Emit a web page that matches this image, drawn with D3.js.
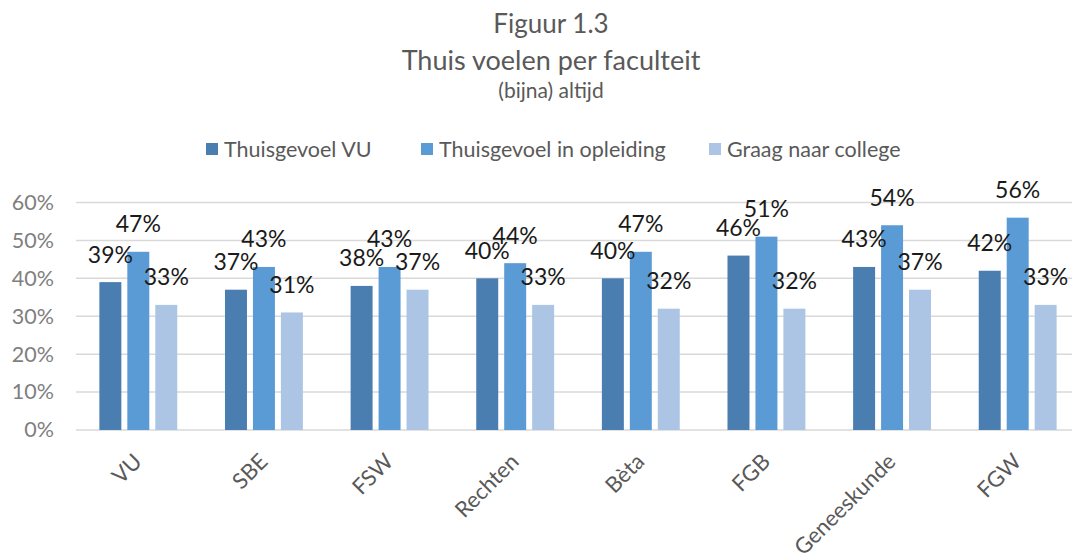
<!DOCTYPE html>
<html>
<head>
<meta charset="utf-8">
<script src="https://cdn.jsdelivr.net/npm/d3@7"></script>
<style>
  body { margin: 0; background: #fff; }
  svg { display: block; font-family: Lato, "Noto Sans", sans-serif; }
</style>
</head>
<body>
<div id="chart"></div>
<script>
// data
const categories = ['VU', 'SBE', 'FSW', 'Rechten', 'Bèta', 'FGB', 'Geneeskunde', 'FGW'];
const seriesNames = ['Thuisgevoel VU', 'Thuisgevoel in opleiding', 'Graag naar college'];
const thuisVU = [39, 37, 38, 40, 40, 46, 43, 42];
const thuisOpleiding = [47, 43, 43, 44, 47, 51, 54, 56];
const graagCollege = [33, 31, 37, 33, 32, 32, 37, 33];
const yTicks = [0, 10, 20, 30, 40, 50, 60];
const colors = ['#4a7db0', '#5b9bd5', '#adc5e5'];

const width = 1072, height = 554;
const seriesValues = [thuisVU, thuisOpleiding, graagCollege];

const svg = d3.select('#chart')
  .append('svg')
    .attr('width', width)
    .attr('height', height);

// titles
const titles = [
  {text: 'Figuur 1.3', y: 33, size: 26},
  {text: 'Thuis voelen per faculteit', y: 70, size: 27},
  {text: '(bijna) altijd', y: 98, size: 21}
];
svg.selectAll('.title')
  .data(titles)
  .enter().append('text')
    .attr('class', 'title')
    .attr('x', 551)
    .attr('y', d => d.y)
    .attr('text-anchor', 'middle')
    .attr('font-size', d => d.size)
    .attr('fill', '#595959')
    .text(d => d.text);

// scales
const x0 = d3.scaleBand()
  .domain(categories)
  .range([75.5, 1080.5])
  .paddingInner(0.38)
  .paddingOuter(0.19);

const x1 = d3.scaleBand()
  .domain(seriesNames)
  .range([0, x0.bandwidth()])
  .paddingInner(0.214);

const y = d3.scaleLinear()
  .domain([0, 60])
  .range([430, 202.5]);

// gridlines
svg.append('g')
  .selectAll('line')
  .data(yTicks)
  .enter().append('line')
    .attr('x1', 76)
    .attr('x2', width)
    .attr('y1', d => y(d))
    .attr('y2', d => y(d))
    .attr('stroke', '#d9d9d9')
    .attr('stroke-width', 1.5);

// y axis labels
const yAxis = svg.append('g')
  .attr('transform', 'translate(54,0)')
  .call(d3.axisLeft(y).tickValues(yTicks).tickFormat(d => d + '%').tickSize(0).tickPadding(0));
yAxis.select('.domain').remove();
yAxis.selectAll('text')
  .attr('font-family', 'Lato, "Noto Sans", sans-serif')
  .attr('font-size', 21.5)
  .attr('fill', '#7f7f7f');

// bars
const rows = categories.map((c, i) => ({
  cat: c,
  vals: seriesNames.map((s, j) => ({series: s, idx: j, value: seriesValues[j][i]}))
}));

const groups = svg.append('g')
  .selectAll('g')
  .data(rows)
  .enter().append('g')
    .attr('transform', d => 'translate(' + x0(d.cat) + ',0)');

groups.selectAll('rect')
  .data(d => d.vals)
  .enter().append('rect')
    .attr('x', d => x1(d.series))
    .attr('y', d => y(d.value))
    .attr('width', x1.bandwidth())
    .attr('height', d => y(0) - y(d.value))
    .attr('fill', d => colors[d.idx]);

groups.selectAll('text')
  .data(d => d.vals)
  .enter().append('text')
    .attr('x', d => x1(d.series) + x1.bandwidth() / 2)
    .attr('y', d => y(d.value) - 19.5)
    .attr('text-anchor', 'middle')
    .attr('font-size', 23)
    .attr('fill', '#1a1a1a')
    .text(d => d.value + '%');

// x axis labels, rotated
const xAxis = svg.append('g')
  .attr('transform', 'translate(0,' + y(0) + ')')
  .call(d3.axisBottom(x0).tickSize(0).tickPadding(0));
xAxis.select('.domain').remove();
xAxis.selectAll('text')
  .attr('font-family', 'Lato, "Noto Sans", sans-serif')
  .attr('font-size', 22)
  .attr('fill', '#595959')
  .style('text-anchor', 'end')
  .attr('dx', 0)
  .attr('dy', 0)
  .attr('transform', 'translate(5,33) rotate(-45)');

// legend
const legendX = [206, 421, 709];
const legend = svg.append('g')
  .selectAll('g')
  .data(seriesNames)
  .enter().append('g')
    .attr('transform', (d, i) => 'translate(' + legendX[i] + ',143)');

legend.append('rect')
  .attr('width', 12)
  .attr('height', 12)
  .attr('fill', (d, i) => colors[i]);

legend.append('text')
  .attr('x', 18)
  .attr('y', 14)
  .attr('font-size', 21.5)
  .attr('fill', '#595959')
  .text(d => d);
</script>
</body>
</html>
